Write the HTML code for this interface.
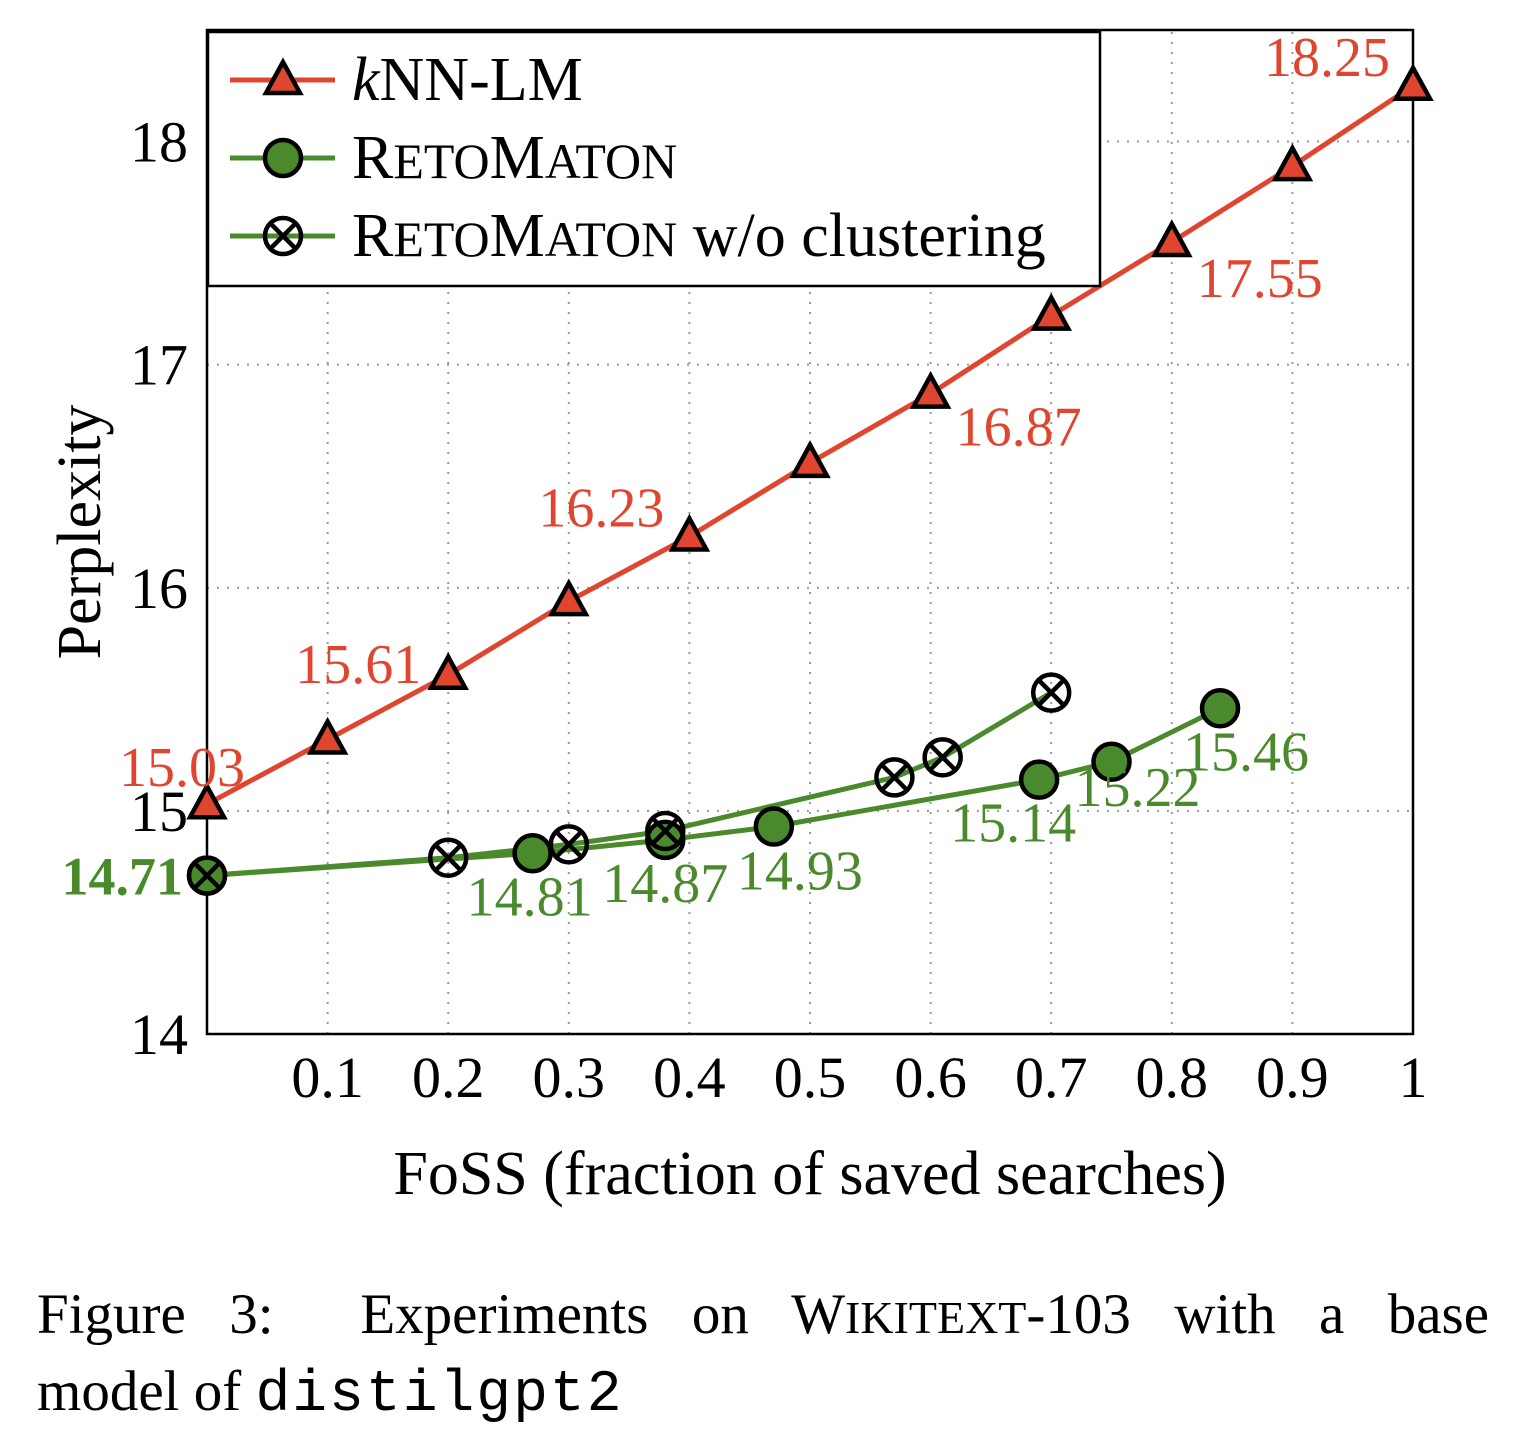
<!DOCTYPE html>
<html><head><meta charset="utf-8"><style>
body{margin:0;background:#fff;}
svg text{font-family:"Liberation Serif",serif;}
.cap{position:absolute;left:37px;font-family:"Liberation Serif",serif;font-size:57px;color:#000;}
.sc{font-size:46px;}
</style></head><body>
<div style="position:relative;width:1518px;height:1444px;overflow:hidden">
<svg id="chart" width="1518" height="1260" style="position:absolute;left:0;top:0"></svg>
<div class="cap" style="top:1282px;width:1452px;text-align:justify;text-align-last:justify">Figure 3: &nbsp;Experiments on W<span class="sc">IKITEXT</span>-103 with a base</div>
<div class="cap" style="top:1359px">model of <span style="font-family:'Liberation Mono',monospace;font-size:58px;letter-spacing:2px">distilgpt2</span></div>
</div>
<script>
const knnX=[0,0.1,0.2,0.3,0.4,0.5,0.6,0.7,0.8,0.9,1];
const knnY=[15.03,15.32,15.61,15.94,16.23,16.56,16.87,17.22,17.55,17.89,18.25];
const retoX=[0,0.27,0.38,0.47,0.69,0.75,0.84];
const retoY=[14.71,14.81,14.87,14.93,15.14,15.22,15.46];
const nocX=[0,0.2,0.3,0.38,0.57,0.61,0.7];
const nocY=[14.71,14.79,14.85,14.91,15.15,15.24,15.53];
const xTicks=[0.1,0.2,0.3,0.4,0.5,0.6,0.7,0.8,0.9,1];
const xTickLabels=["0.1","0.2","0.3","0.4","0.5","0.6","0.7","0.8","0.9","1"];
const yTicks=[14,15,16,17,18];
const knnLabels=[[0,"15.03"],[2,"15.61"],[4,"16.23"],[6,"16.87"],[8,"17.55"],[10,"18.25"]];
const retoLabels=[[1,"14.81"],[2,"14.87"],[3,"14.93"],[4,"15.14"],[5,"15.22"],[6,"15.46"]];

const X0=207,X1=1413,Y0=1034,Y1=30;
const xs=v=>X0+v*(X1-X0);
const ys=v=>Y0-(v-14)*(Y0-Y1)/4.5;
const RED="#e0462f",GREEN="#4a8a2c";
const svg=document.getElementById('chart');
const NS="http://www.w3.org/2000/svg";
function mk(tag,at,parent){const e=document.createElementNS(NS,tag);for(const k in at)e.setAttribute(k,at[k]);(parent||svg).appendChild(e);return e;}
function txt(s,x,y,at){const e=mk('text',Object.assign({x:x,y:y},at));e.textContent=s;return e;}

xTicks.forEach((t,i)=>{const g=mk('line',{x1:xs(t),x2:xs(t),y1:Y0,y2:Y1,stroke:"#999","stroke-width":2,"stroke-dasharray":"2 8"});


const tk=txt(xTickLabels[i],xs(t),1097,{"font-size":58,"text-anchor":"middle"});

});
yTicks.forEach(t=>{if(t>14){const g=mk('line',{x1:X0,x2:X1,y1:ys(t),y2:ys(t),stroke:"#999","stroke-width":2,"stroke-dasharray":"2 8"});

}
const tk=txt(String(t),188,ys(t)+20,{"font-size":58,"text-anchor":"end"});

});
const fr=mk('rect',{x:X0,y:Y1,width:X1-X0,height:Y0-Y1,fill:"none",stroke:"#000","stroke-width":2.5});


const xt=txt("FoSS (fraction of saved searches)",810,1194,{"font-size":62,"text-anchor":"middle"});


const yt=txt("Perplexity",0,0,{"font-size":62,"text-anchor":"middle",transform:"translate(100,532) rotate(-90)"});



function line(X,Y,c,name){const p=mk('polyline',{points:X.map((x,i)=>xs(x)+","+ys(Y[i])).join(" "),fill:"none",stroke:c,"stroke-width":5});

}
function tri(cx,cy,g){return mk('polygon',{points:`${cx},${cy-18} ${cx-17},${cy+13} ${cx+17},${cy+13}`,fill:RED,stroke:"#000","stroke-width":4.5,"stroke-linejoin":"miter"},g);}
function circ(cx,cy,g){return mk('circle',{cx:cx,cy:cy,r:18,fill:GREEN,stroke:"#000","stroke-width":4.5},g);}
function otimes(cx,cy,g){const gg=mk('g',{},g);mk('circle',{cx:cx,cy:cy,r:18,fill:"none",stroke:"#000","stroke-width":4.5},gg);const d=12.5;
mk('path',{d:`M${cx-d} ${cy-d}L${cx+d} ${cy+d}M${cx+d} ${cy-d}L${cx-d} ${cy+d}`,stroke:"#000","stroke-width":4.5},gg);return gg;}

line(knnX,knnY,RED,'knn-lm-line');
line(nocX,nocY,GREEN,'retomaton-no-clustering-line');
line(retoX,retoY,GREEN,'retomaton-line');
retoX.forEach((x,i)=>{const m=circ(xs(x),ys(retoY[i]));

});
nocX.forEach((x,i)=>{const m=otimes(xs(x),ys(nocY[i]));

});
knnX.forEach((x,i)=>{const m=tri(xs(x),ys(knnY[i]));

});

const knnOff={0:[-25,-18],2:[-90,8],4:[-88,-10],6:[88,52],8:[88,55],10:[-86,-10]};
knnLabels.forEach(([i,s])=>{const o=knnOff[i];const t=txt(s,xs(knnX[i])+o[0],ys(knnY[i])+o[1],{"font-size":56,fill:RED,"text-anchor":"middle"});

});
const retoOff={1:[-3,62],2:[0,62],3:[26,63],4:[-26,62],5:[26,44],6:[26,62]};
retoLabels.forEach(([i,s])=>{const o=retoOff[i];const t=txt(s,xs(retoX[i])+o[0],ys(retoY[i])+o[1],{"font-size":56,fill:GREEN,"text-anchor":"middle"});

});
const b=txt("14.71",183,ys(14.71)+19,{"font-size":54,fill:GREEN,"text-anchor":"end","font-weight":"bold"});



const lg=mk('g',{});


mk('rect',{x:208,y:32,width:892,height:254,fill:"#fff",stroke:"#000","stroke-width":2.5},lg);
const rows=[[80,RED,tri],[158,GREEN,circ],[236,GREEN,otimes]];
function sp(t,s,fs){const a=mk('tspan',{"font-size":fs},t);a.textContent=s;return a;}
rows.forEach(([y,c,f],k)=>{const e=mk('g',{},lg);


mk('line',{x1:230,x2:335,y1:y,y2:y,stroke:c,"stroke-width":5},e);f(283,y,e);
const t=mk('text',{x:352,y:y+20,"font-size":62},e);
if(k==0){const a=mk('tspan',{"font-style":"italic"},t);a.textContent="k";sp(t,"NN-LM",62);}
else{sp(t,"R",62);sp(t,"ETO",50);sp(t,"M",62);sp(t,"ATON",50);
if(k==2){sp(t," w/o clustering",62);}}});
</script>
</body></html>
